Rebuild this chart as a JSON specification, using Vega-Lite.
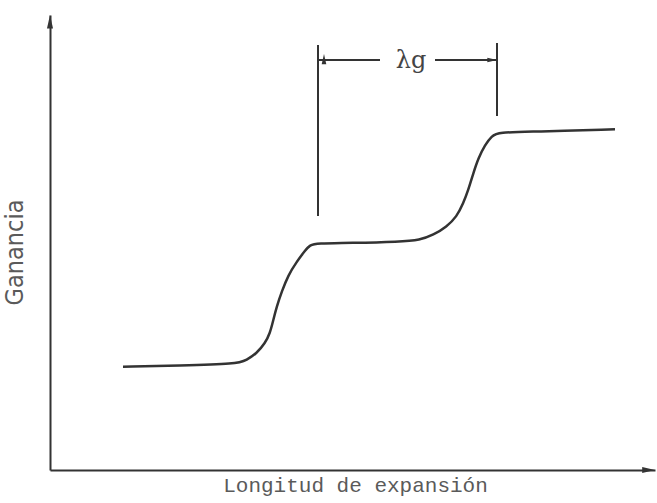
{
  "$schema": "https://vega.github.io/schema/vega-lite/v6.json",
  "width": 605,
  "height": 455,
  "autosize": {"type": "none"},
  "padding": {"left": 50, "top": 15, "right": 2, "bottom": 33},
  "background": "white",
  "config": {"view": {"stroke": null}},
  "datasets": {
    "curve": [
      {"x": 73, "y": 103.3}, {"x": 130, "y": 104.5}, {"x": 186.7, "y": 106}, {"x": 196.7, "y": 110},
      {"x": 206.7, "y": 116.7}, {"x": 215, "y": 126.7}, {"x": 220, "y": 136.7}, {"x": 223.3, "y": 150},
      {"x": 226.7, "y": 163.3}, {"x": 231.7, "y": 178.3}, {"x": 238.3, "y": 195}, {"x": 246.7, "y": 208.3},
      {"x": 255, "y": 219.3}, {"x": 260, "y": 225}, {"x": 266.7, "y": 226.7}, {"x": 300, "y": 227},
      {"x": 350, "y": 228.3}, {"x": 370, "y": 230}, {"x": 383.3, "y": 235}, {"x": 396.7, "y": 243.3},
      {"x": 406.7, "y": 253.3}, {"x": 413.3, "y": 266.7}, {"x": 418.3, "y": 280}, {"x": 423.3, "y": 296.7},
      {"x": 428.3, "y": 311.7}, {"x": 435, "y": 325}, {"x": 441.7, "y": 334}, {"x": 448.3, "y": 337.7},
      {"x": 483.3, "y": 338.3}, {"x": 565, "y": 340.7}
    ],
    "lines": [
      {"x": 268, "x2": 268, "y": 425, "y2": 254},
      {"x": 447, "x2": 447, "y": 427, "y2": 354},
      {"x": 268, "x2": 330, "y": 410, "y2": 410},
      {"x": 385, "x2": 447, "y": 410, "y2": 410}
    ],
    "axisArrows": [
      {"x": 0, "y": 447, "dir": "up"},
      {"x": 597, "y": 0, "dir": "right"}
    ],
    "dimArrows": [
      {"x": 274, "y": 410, "dir": "left"},
      {"x": 441, "y": 410, "dir": "right"}
    ],
    "labels": [
      {"x": 361, "y": 402, "text": "λg"}
    ]
  },
  "layer": [
    {
      "data": {"name": "curve"},
      "mark": {"type": "line", "interpolate": "basis", "color": "#333333", "strokeWidth": 2.5, "clip": false},
      "encoding": {
        "x": {"field": "x", "type": "quantitative", "scale": {"domain": [0, 605], "nice": false},
          "axis": {"title": "Longitud de expansión", "labels": false, "ticks": false, "grid": false,
            "domainColor": "#333333", "domainWidth": 2, "titleFont": "Liberation Mono", "titleFontSize": 21,
            "titleFontWeight": "normal", "titleColor": "#5a5a5a", "titlePadding": 4, "titleX": 305}},
        "y": {"field": "y", "type": "quantitative", "scale": {"domain": [0, 455], "nice": false},
          "axis": {"title": "Ganancia", "labels": false, "ticks": false, "grid": false,
            "domainColor": "#333333", "domainWidth": 2, "titleFont": "DejaVu Sans Condensed", "titleFontSize": 25,
            "titleFontWeight": "normal", "titleColor": "#5a5a5a", "titlePadding": 23, "titleY": 237}}
      }
    },
    {
      "data": {"name": "lines"},
      "mark": {"type": "rule", "color": "#333333", "strokeWidth": 2, "clip": false},
      "encoding": {
        "x": {"field": "x", "type": "quantitative"},
        "x2": {"field": "x2"},
        "y": {"field": "y", "type": "quantitative"},
        "y2": {"field": "y2"}
      }
    },
    {
      "data": {"name": "axisArrows"},
      "mark": {"type": "point", "filled": true, "color": "#333333", "opacity": 1, "size": 256, "clip": false},
      "encoding": {
        "x": {"field": "x", "type": "quantitative"},
        "y": {"field": "y", "type": "quantitative"},
        "shape": {"field": "dir", "type": "nominal", "legend": null,
          "scale": {"domain": ["up", "right"], "range": ["M0,-1L0.38,0.7L-0.38,0.7Z", "M1,0L-0.6,0.38L-0.6,-0.38Z"]}}
      }
    },
    {
      "data": {"name": "dimArrows"},
      "mark": {"type": "point", "filled": true, "color": "#333333", "opacity": 1, "size": 150, "clip": false},
      "encoding": {
        "x": {"field": "x", "type": "quantitative"},
        "y": {"field": "y", "type": "quantitative"},
        "shape": {"field": "dir", "type": "nominal", "legend": null,
          "scale": {"domain": ["left", "right"], "range": ["M-1,0L0.7,-0.4L0.7,0.4Z", "M1,0L-0.7,0.4L-0.7,-0.4Z"]}}
      }
    },
    {
      "data": {"name": "labels"},
      "mark": {"type": "text", "font": "DejaVu Serif", "fontSize": 24, "color": "#444444", "baseline": "alphabetic", "align": "center"},
      "encoding": {
        "x": {"field": "x", "type": "quantitative"},
        "y": {"field": "y", "type": "quantitative"},
        "text": {"field": "text"}
      }
    }
  ]
}
